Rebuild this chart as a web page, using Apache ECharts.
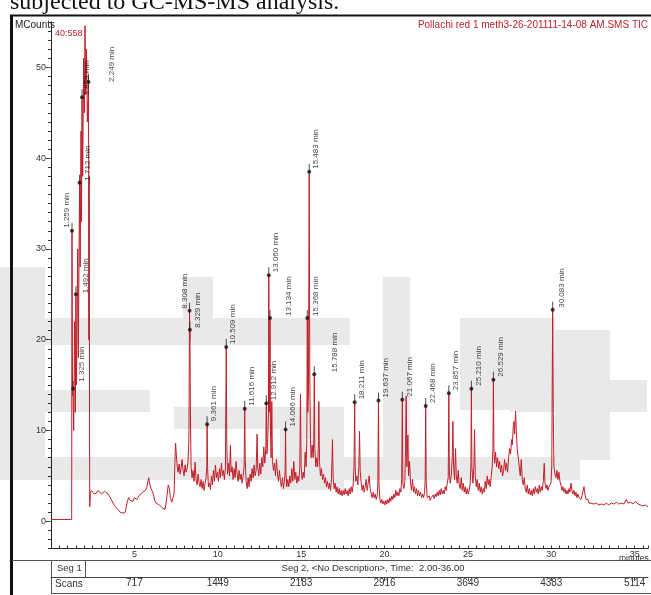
<!DOCTYPE html>
<html>
<head>
<meta charset="utf-8">
<script src="https://cdn.jsdelivr.net/npm/echarts@6/dist/echarts.min.js"></script>
<style>
html,body{margin:0;padding:0;background:#fff;}
#chart{width:651px;height:595px;}
</style>
</head>
<body>
<div id="chart"></div>
<script>
// TIC trace, [minutes, MCounts]
var solventFront = [[0.00,0.2],[0.60,0.2],[1.24,0.2],[1.259,32.0],[1.29,13.8],[1.325,14.6],[1.36,10.0],[1.42,22.0],[1.46,12.0],[1.492,25.0],[1.53,15.0],[1.60,30.0],[1.64,18.0],[1.712,37.3],[1.75,28.0],[1.80,43.0],[1.83,33.0],[1.859,46.7],[1.90,38.0],[1.96,51.0],[2.00,45.0],[2.04,54.6],[2.08,47.0],[2.13,52.0],[2.18,44.0],[2.249,48.4],[2.27,20.0],[2.29,38.0],[2.32,1.6],[2.36,3.1],[2.42,3.4]];
var earlyBaseline = [[2.49,3.3],[2.60,3.0],[2.72,3.1],[2.82,3.4],[2.92,3.3],[3.02,3.0],[3.12,3.0],[3.22,3.3],[3.32,3.2],[3.42,3.0],[3.52,2.7],[3.62,2.4],[3.72,2.0],[3.85,1.6],[4.01,1.3],[4.15,1.0],[4.31,0.9],[4.45,1.0],[4.52,1.2],[4.58,2.2],[4.66,2.6],[4.75,2.3],[4.84,2.5],[4.92,2.2],[5.00,2.6],[5.08,2.8],[5.15,2.4],[5.22,2.3],[5.31,2.9],[5.40,3.0],[5.50,3.2],[5.58,3.0],[5.66,3.4],[5.74,3.7],[5.80,4.3],[5.86,4.8],[5.92,4.1],[6.00,3.6],[6.08,3.5],[6.14,3.0],[6.22,2.3],[6.30,2.0],[6.40,1.9],[6.50,1.8],[6.58,1.6],[6.66,1.5],[6.74,1.4],[6.84,1.3],[6.90,2.0],[6.97,3.0],[7.03,4.0],[7.10,3.6],[7.16,2.6],[7.24,2.1],[7.32,2.0],[7.38,3.0],[7.43,6.5],[7.47,8.6],[7.52,7.2],[7.57,6.0]];
var hump1 = [[7.62,5.4],[7.68,6.3],[7.74,5.2],[7.80,5.9],[7.86,6.8],[7.92,5.6],[7.98,5.0],[8.04,6.2],[8.10,5.4],[8.16,5.8],[8.22,6.6],[8.27,9.0],[8.308,23.2],[8.32,20.0],[8.329,21.1],[8.36,12.0],[8.40,6.0],
  [8.46,4.8],[8.52,5.6],[8.58,4.4],[8.64,6.5],[8.70,4.6],[8.76,4.0],[8.82,5.2],[8.88,4.2],[8.94,3.8],[9.00,4.6],[9.06,3.6],[9.12,4.4],[9.18,3.4],[9.24,4.2],[9.30,4.8],[9.34,6.0],[9.361,10.7],[9.39,6.0],[9.44,3.8],
  [9.50,4.2],[9.56,3.5],[9.62,5.0],[9.68,4.0],[9.74,5.6],[9.80,4.4],[9.86,6.2],[9.92,4.8],[9.98,5.4],[10.04,4.4],[10.10,5.8],[10.16,4.8],[10.22,6.4],[10.28,5.0],[10.34,5.6],[10.40,4.6],[10.46,6.0],[10.509,19.2],[10.54,9.0],[10.58,5.2],
  [10.64,6.4],[10.70,5.0],[10.76,8.4],[10.80,5.4],[10.86,6.0],[10.92,4.6],[10.98,5.8],[11.04,4.8],[11.10,6.6],[11.16,5.2],[11.22,4.4],[11.28,5.6],[11.34,4.6],[11.40,5.2],[11.46,4.2],[11.52,5.0],[11.58,6.0],[11.616,12.4],[11.65,6.8],[11.70,4.4]];
var hump2 = [[11.76,3.6],[11.82,4.8],[11.88,3.8],[11.94,5.2],[12.00,4.4],[12.06,5.8],[12.12,4.8],[12.18,6.2],[12.24,5.0],[12.30,5.6],[12.36,9.6],[12.40,5.8],[12.46,5.0],[12.52,6.4],[12.58,5.2],[12.64,7.0],[12.70,6.0],[12.76,8.2],[12.82,6.4],[12.88,8.0],[12.912,13.0],[12.95,7.4],[13.00,9.0],[13.04,12.0],[13.060,27.1],[13.09,14.0],[13.11,12.0],[13.134,22.4],[13.16,10.0],[13.20,7.0],[13.24,13.2],[13.28,6.6],[13.34,5.6],
  [13.40,6.4],[13.46,5.0],[13.52,6.8],[13.58,5.2],[13.64,4.4],[13.70,5.6],[13.76,4.4],[13.82,3.8],[13.88,4.8],[13.94,3.6],[14.00,4.4],[14.04,5.6],[14.066,10.1],[14.09,5.4],[14.14,3.8],
  [14.20,4.6],[14.26,3.8],[14.32,5.0],[14.38,4.2],[14.44,5.8],[14.50,4.4],[14.56,6.6],[14.62,4.6],[14.68,5.4],[14.74,4.2],[14.80,5.0],[14.86,4.4],[14.92,6.0],[14.96,14.0],[15.00,6.0],[15.06,4.6],[15.12,5.4],[15.18,4.8],[15.24,7.6],[15.30,6.0],[15.34,9.0],[15.368,22.4],[15.40,12.0],[15.44,14.0],[15.483,38.5],[15.52,16.0],[15.56,9.0],[15.60,7.0],[15.66,8.4],[15.72,7.0],[15.76,9.0],[15.788,16.2],[15.82,8.0],[15.88,6.0],[15.94,7.0],[15.99,6.0],[16.03,8.0],[16.06,13.2],[16.10,6.6],[16.16,5.0]];
var hump3 = [[16.22,5.8],[16.28,4.6],[16.34,5.2],[16.40,4.2],[16.46,4.8],[16.52,3.8],[16.58,4.4],[16.64,3.6],[16.70,4.2],[16.76,3.4],[16.82,4.6],[16.88,9.0],[16.92,4.8],[16.98,3.6],[17.04,4.2],[17.10,3.2],[17.16,3.8],[17.22,3.0],[17.28,3.6],[17.34,2.9],[17.40,3.4],[17.46,2.8],[17.52,3.4],[17.58,2.9],[17.64,3.6],[17.70,3.0],[17.76,3.4],[17.82,2.8],[17.88,3.6],[17.94,3.0],[18.00,3.8],[18.06,3.2],[18.12,4.0],[18.17,6.0],[18.211,13.1],[18.24,6.0],[18.28,4.4],
  [18.34,5.0],[18.40,4.0],[18.46,6.0],[18.50,9.9],[18.54,5.6],[18.60,4.2],[18.66,3.4],[18.72,4.0],[18.78,3.2],[18.84,3.8],[18.90,4.6],[18.96,3.4],[19.02,4.2],[19.08,5.0],[19.14,3.6],[19.20,3.0],[19.26,2.6],[19.32,3.2],[19.38,2.6],[19.44,3.0],[19.50,2.4],[19.56,2.8],[19.60,4.0],[19.637,13.3],[19.67,4.0],[19.72,2.4],
  [19.78,2.0],[19.84,2.4],[19.90,1.9],[19.96,2.2],[20.02,1.8],[20.08,2.3],[20.14,1.9],[20.20,2.4],[20.26,2.0],[20.32,2.6],[20.38,2.2],[20.44,2.8],[20.50,2.4],[20.56,3.0],[20.62,2.6],[20.68,3.4],[20.74,2.8],[20.80,3.2],[20.86,2.8],[20.92,3.6],[20.98,3.2],[21.03,4.6],[21.067,13.4],[21.10,4.2],[21.16,3.6],
  [21.22,4.4],[21.26,8.0],[21.30,13.8],[21.34,6.0],[21.40,9.5],[21.44,5.0],[21.50,6.6],[21.56,4.2],[21.62,3.4],[21.68,4.6],[21.74,3.2],[21.80,3.8],[21.86,3.0],[21.92,3.6],[21.98,2.8],[22.04,3.4],[22.10,2.8],[22.16,3.2],[22.22,2.6],[22.28,3.0],[22.34,2.6],[22.40,3.2],[22.44,4.6],[22.468,12.7],[22.50,4.4],[22.56,2.6]];
var hump4 = [[22.62,2.4],[22.68,2.8],[22.74,2.3],[22.80,2.6],[22.86,2.4],[22.92,2.9],[22.98,2.5],[23.04,3.0],[23.10,2.7],[23.16,3.2],[23.22,2.8],[23.28,3.4],[23.34,2.9],[23.40,3.6],[23.46,3.0],[23.52,3.4],[23.58,3.0],[23.64,3.8],[23.70,3.4],[23.76,4.2],[23.82,4.8],[23.857,14.1],[23.89,5.4],[23.94,4.2],
  [24.00,5.0],[24.06,7.0],[24.10,11.0],[24.14,6.0],[24.20,4.6],[24.26,8.0],[24.30,5.0],[24.36,4.2],[24.42,5.6],[24.48,4.0],[24.54,3.6],[24.60,4.8],[24.66,3.4],[24.72,4.2],[24.78,3.2],[24.84,3.8],[24.90,3.0],[24.96,3.6],[25.02,3.0],[25.08,3.4],[25.14,4.2],[25.18,6.0],[25.210,14.6],[25.24,6.0],[25.30,4.2],[25.36,6.0],[25.40,10.1],[25.44,5.0],
  [25.50,3.8],[25.56,4.6],[25.62,3.4],[25.68,4.2],[25.74,3.2],[25.80,3.8],[25.86,3.0],[25.92,3.6],[25.98,3.2],[26.04,4.4],[26.10,3.6],[26.16,5.0],[26.22,4.0],[26.28,4.6],[26.34,3.8],[26.40,5.0],[26.46,6.0],[26.50,8.0],[26.529,15.6],[26.56,8.0],[26.60,6.4],[26.66,7.6],[26.72,6.0],
  [26.78,7.0],[26.84,5.8],[26.90,6.6],[26.96,5.4],[27.02,6.2],[27.08,5.0],[27.14,5.6],[27.20,6.8],[27.26,5.6],[27.32,6.4],[27.38,5.4],[27.44,7.0],[27.50,8.0],[27.56,7.4],[27.62,9.0],[27.66,8.4],[27.72,10.4],[27.76,11.0],[27.80,9.6],[27.86,12.1],[27.90,10.0],[27.96,8.0],[28.02,7.0],[28.08,6.0],[28.14,5.0],[28.20,6.8],[28.26,4.6],[28.32,4.0],[28.38,4.8],[28.44,3.6]];
var lateTail = [[28.50,3.2],[28.56,4.0],[28.62,3.0],[28.68,3.6],[28.74,2.9],[28.80,3.4],[28.86,2.8],[28.92,3.6],[28.98,3.0],[29.04,3.8],[29.10,3.2],[29.16,3.6],[29.22,3.0],[29.28,4.0],[29.34,3.2],[29.40,3.8],[29.46,3.4],[29.52,4.4],[29.58,6.4],[29.62,4.2],[29.68,3.6],[29.74,4.0],[29.80,3.4],[29.86,3.8],[29.92,3.6],[29.98,4.2],[30.03,6.0],[30.083,23.3],[30.12,12.0],[30.16,6.0],
  [30.22,5.2],[30.28,4.8],[30.34,5.6],[30.40,4.6],[30.46,5.4],[30.52,4.4],[30.58,4.0],[30.64,3.4],[30.70,3.8],[30.76,3.2],[30.82,3.6],[30.88,3.0],[30.94,3.4],[31.00,3.0],[31.06,3.6],[31.12,3.2],[31.18,4.2],[31.24,3.4],[31.30,3.0],[31.36,3.4],[31.42,2.8],[31.48,3.2],[31.54,2.6],[31.60,3.0],[31.66,2.6],[31.72,2.8],[31.78,2.4],[31.84,2.8],[31.90,2.6],[31.96,3.8],[32.02,3.0],[32.08,2.4],[32.14,2.2],[32.20,2.4],[32.26,2.0],[32.32,2.2],[32.38,2.0],[32.44,2.2],
  [32.55,1.9],[32.70,2.0],[32.85,1.8],[33.00,1.9],[33.15,1.8],[33.30,2.0],[33.45,1.8],[33.60,2.0],[33.75,1.9],[33.90,2.1],[34.05,1.9],[34.20,2.0],[34.35,1.9],[34.50,2.4],[34.60,2.0],[34.75,2.1],[34.90,1.9],[35.05,2.2],[35.20,1.9],[35.35,1.8],[35.50,1.7],[35.65,1.8],[35.80,1.6]];

// labelled peaks
var peakLabels = ['1.259 min','1.325 min','1.492 min','1.712 min','1.859 min','2.249 min','8.308 min','8.329 min','9.361 min','10.509 min','11.616 min','12.912 min','13.060 min','13.134 min','14.066 min','15.368 min','15.483 min','15.788 min','18.211 min','19.637 min','21.067 min','22.468 min','23.857 min','25.210 min','26.529 min','30.083 min'];
var peakHeights = [32.0,14.6,25.0,37.3,46.7,48.4,23.2,21.1,10.7,19.2,12.4,13.0,27.1,22.4,10.1,22.4,38.5,16.2,13.1,13.3,13.4,12.7,14.1,14.6,15.6,23.3];

// axis tick labels
var yMajorTicks = [0, 10, 20, 30, 40, 50];
var xMajorTicks = [5, 10, 15, 20, 25, 30, 35];
var scanLabels = ['717', '1449', '2183', '2916', '3649', '4383', '5114'];

var trace = [].concat(solventFront, earlyBaseline, hump1, hump2, hump3, hump4, lateTail);

// where each peak label sits relative to its dot: [dx, dy]
var labelShift = {
  '1.259 min': [-5, -3], '1.325 min': [9, -7], '1.492 min': [10, -1], '1.712 min': [8, -2],
  '1.859 min': [5, -2], '2.249 min': [23, 0], '8.308 min': [-5, -2], '8.329 min': [8, -2],
  '13.134 min': [19, -2], '15.368 min': [9, -2], '15.788 min': [21, -2], '30.083 min': [9, -2]
};

var peaks = peakLabels.map(function (name, i) {
  var s = labelShift[name] || [7, -3];
  return {
    value: [parseFloat(name), peakHeights[i]],
    name: name,
    label: { position: [2 + s[0], 2 + s[1]] }
  };
});

// faint watermark blocks behind the plot
var shade = '#e9e9e9';
var watermark = [
  [0, 267, 45, 190], [45, 318, 305, 27], [183, 277, 30, 42], [0, 390, 150, 22],
  [174, 407, 170, 22], [280, 407, 64, 83], [383, 277, 27, 183], [460, 318, 95, 92],
  [555, 330, 55, 130], [510, 380, 137, 32], [0, 457, 580, 23]
].map(function (r) {
  return { type: 'rect', z: -10, shape: { x: r[0], y: r[1], width: r[2], height: r[3] }, style: { fill: shade } };
});

var chart = echarts.init(document.getElementById('chart'), null, { renderer: 'canvas' });

var sans = 'Liberation Sans';
var red = '#c01f28';

chart.setOption({
  animation: false,
  backgroundColor: '#fff',
  grid: { left: 51, right: 0, top: 22, bottom: 46.5 },
  xAxis: [{
    type: 'value', min: 0, max: 35.8, interval: 0.5,
    axisLine: { onZero: false, lineStyle: { color: '#222', width: 1 } },
    axisTick: { inside: true, length: 3, lineStyle: { color: '#333' } },
    axisLabel: {
      margin: 2, fontSize: 9, color: '#333', fontFamily: sans,
      formatter: function (v) { return xMajorTicks.indexOf(v) >= 0 ? String(v) : ''; }
    },
    splitLine: { show: false }
  }, {
    type: 'value', min: 0, max: 35.8, position: 'bottom', offset: 28.5,
    axisLine: { show: true, onZero: false, lineStyle: { color: '#444', width: 1 } },
    axisTick: { show: true, customValues: xMajorTicks, length: 4, lineStyle: { color: '#444' } },
    axisLabel: {
      customValues: xMajorTicks, margin: 1, fontSize: 10, color: '#333', fontFamily: sans,
      formatter: function (v) { return scanLabels[Math.round(v / 5) - 1] || ''; }
    },
    splitLine: { show: false }
  }],
  yAxis: [{
    type: 'value', min: -3, max: 55, interval: 1,
    axisLine: { show: true, onZero: false, lineStyle: { color: '#222', width: 1 } },
    axisTick: { show: true, length: 3, lineStyle: { color: '#333' } },
    axisLabel: {
      margin: 5, fontSize: 9, color: '#333', fontFamily: sans,
      formatter: function (v) { return yMajorTicks.indexOf(v) >= 0 ? String(v) : ''; }
    },
    splitLine: { show: false }
  }, {
    type: 'value', min: -3, max: 55, position: 'left',
    axisLine: { show: false },
    axisTick: { show: true, customValues: yMajorTicks, length: 5, lineStyle: { color: '#333' } },
    axisLabel: { show: false },
    splitLine: { show: false }
  }, {
    type: 'value', min: -3, max: 55, position: 'right',
    axisLine: { show: false },
    axisTick: { show: true, inside: true, customValues: yMajorTicks, length: 3, lineStyle: { color: '#555' } },
    axisLabel: { show: false },
    splitLine: { show: false }
  }],
  series: [{
    type: 'line',
    data: trace,
    showSymbol: false,
    lineStyle: { color: red, width: 1 },
    z: 3
  }, {
    type: 'scatter',
    data: peaks,
    symbol: 'circle',
    symbolSize: 4,
    itemStyle: { color: '#111' },
    label: {
      show: true, rotate: 90, align: 'left', verticalAlign: 'middle',
      fontSize: 8, fontFamily: sans, color: '#111',
      formatter: function (p) { return p.name; }
    },
    z: 5
  }, {
    type: 'scatter',
    data: peaks.map(function (p) { return p.value; }),
    symbol: 'rect',
    symbolSize: [1, 8],
    symbolOffset: [0, -4],
    itemStyle: { color: '#222' },
    z: 4
  }],
  graphic: watermark.concat([
    // caption of the figure, cut at the top
    { type: 'text', left: 10, top: -9, style: { text: 'subjected to GC-MS-MS analysis.', font: '24px "Liberation Serif"', fill: '#111' } },
    // outer frame
    { type: 'line', shape: { x1: 10, y1: 15.5, x2: 651, y2: 15.5 }, style: { stroke: '#111', lineWidth: 2 } },
    { type: 'line', shape: { x1: 11.5, y1: 15, x2: 11.5, y2: 595 }, style: { stroke: '#111', lineWidth: 3 } },
    { type: 'line', shape: { x1: 12, y1: 560.5, x2: 651, y2: 560.5 }, style: { stroke: '#555', lineWidth: 1 } },
    // segment / scans table
    { type: 'line', shape: { x1: 51.5, y1: 560, x2: 51.5, y2: 593.5 }, style: { stroke: '#555', lineWidth: 1 } },
    { type: 'line', shape: { x1: 85.5, y1: 560, x2: 85.5, y2: 577 }, style: { stroke: '#555', lineWidth: 1 } },
    { type: 'line', shape: { x1: 51, y1: 593.5, x2: 651, y2: 593.5 }, style: { stroke: '#555', lineWidth: 1 } },
    { type: 'text', left: 57, top: 563, style: { text: 'Seg 1', font: '9.5px ' + sans, fill: '#333' } },
    { type: 'text', x: 373, y: 563, style: { text: 'Seg 2, <No Description>, Time:  2.00-36.00', font: '9.5px ' + sans, fill: '#333', textAlign: 'center' } },
    { type: 'text', left: 55, top: 579, style: { text: 'Scans', font: '10px ' + sans, fill: '#333' } },
    // header texts
    { type: 'text', left: 15, top: 20, style: { text: 'MCounts', font: '10px ' + sans, fill: '#222' } },
    { type: 'text', left: 55, top: 29, style: { text: '40:558', font: '9px ' + sans, fill: red } },
    { type: 'text', right: 3, top: 20, style: { text: 'Pollachi red 1 meth3-26-201111-14-08 AM.SMS TIC', font: '10px ' + sans, fill: red } },
    { type: 'text', left: 619, top: 554, style: { text: 'minutes', font: '8.5px ' + sans, fill: '#333' } }
  ])
});
</script>
</body>
</html>
